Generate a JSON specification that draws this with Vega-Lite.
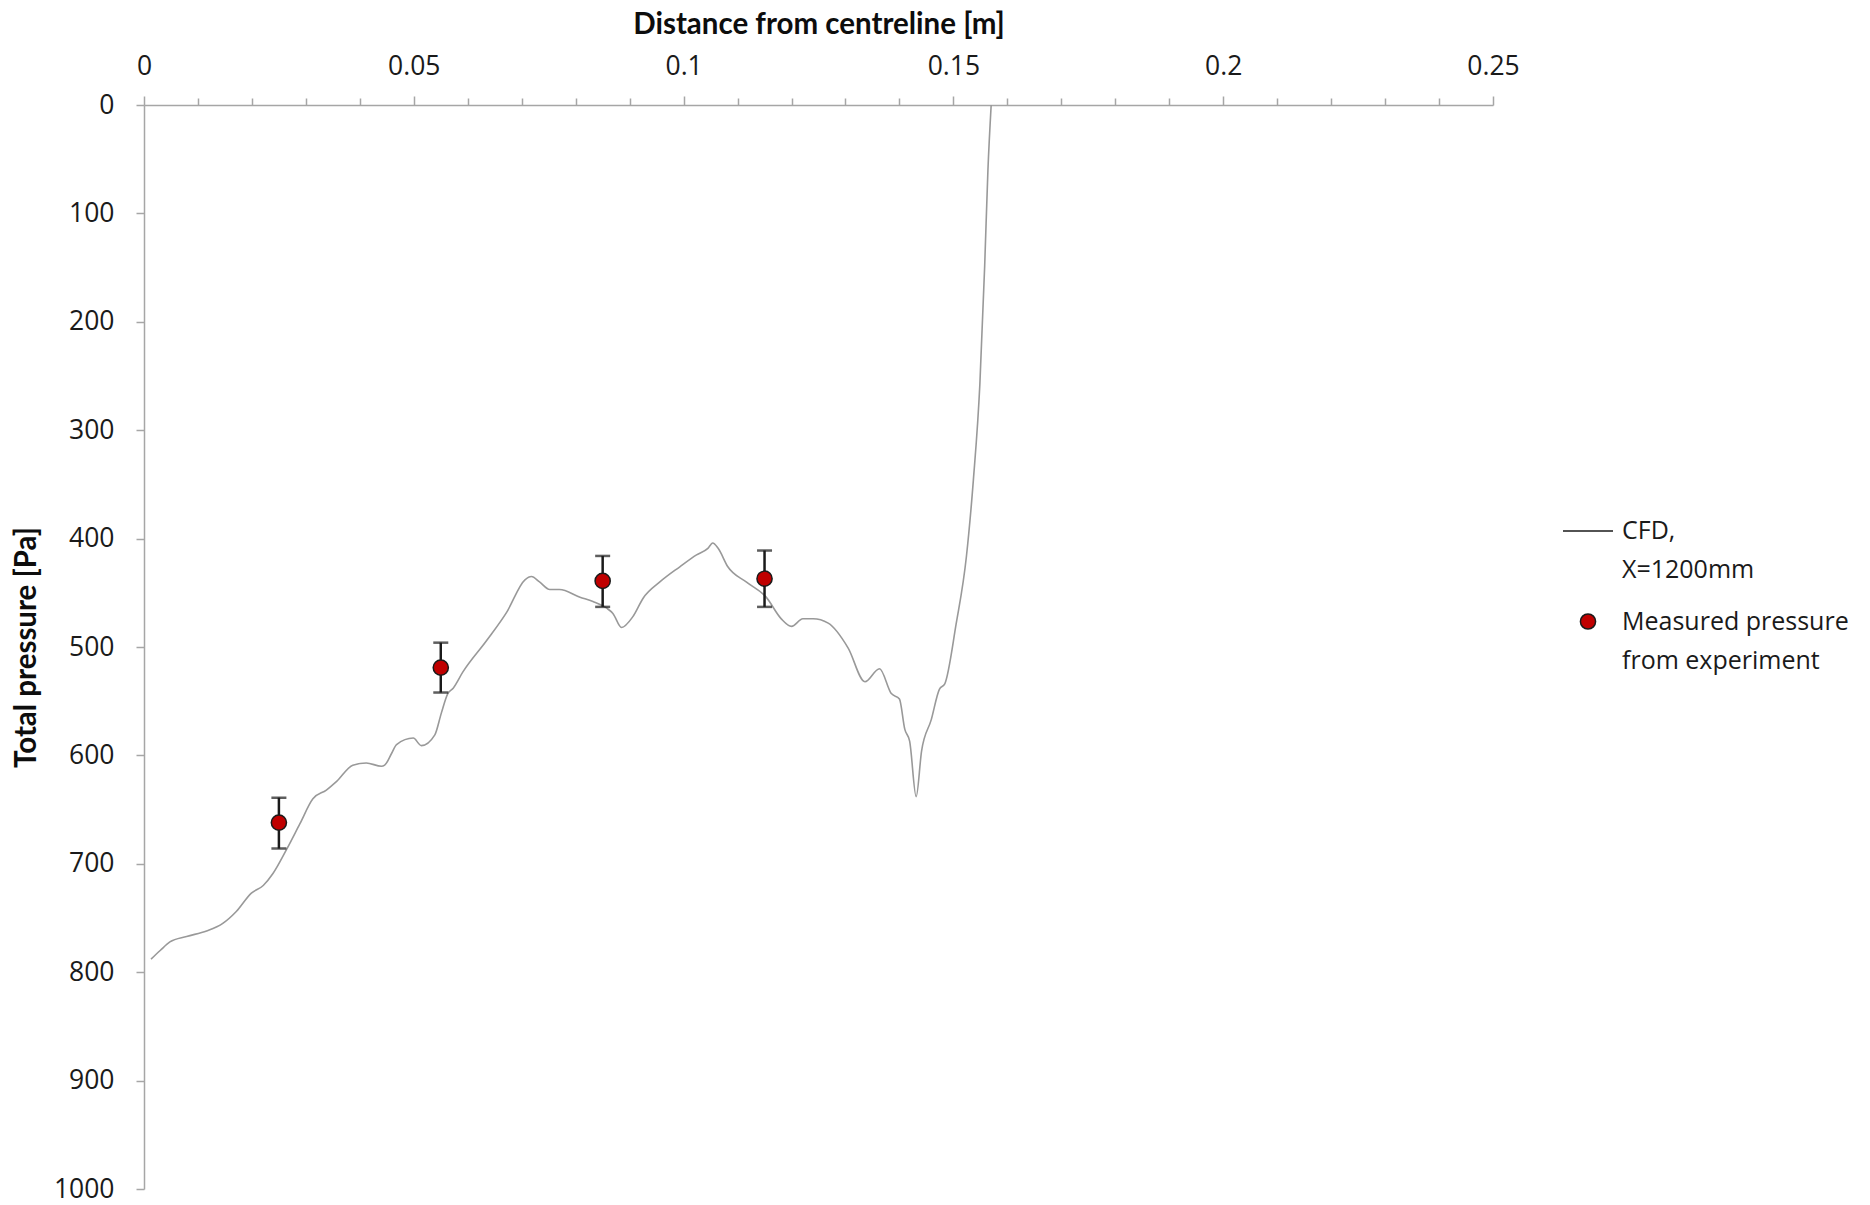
{
  "$schema": "https://vega.github.io/schema/vega-lite/v6.json",
  "width": 1349,
  "height": 1084,
  "autosize": {"type": "none"},
  "padding": {"left": 144, "top": 105, "right": 377, "bottom": 16},
  "background": "white",
  "config": {
    "view": {"stroke": null},
    "style": {"guide-label": {"lineHeight": 39}},
    "axis": {
      "domainColor": "#a6a6a6",
      "domainWidth": 1.5,
      "tickColor": "#a6a6a6",
      "tickWidth": 1.5,
      "grid": false,
      "labelFont": "Open Sans",
      "labelFontSize": 26.5,
      "labelColor": "#1a1a1a",
      "titleFont": "Lato",
      "titleFontSize": 29.5,
      "titleFontWeight": "bold",
      "titleColor": "#0d0d0d"
    },
    "legend": {
      "labelFont": "Open Sans",
      "labelFontSize": 25,
      "labelColor": "#1a1a1a"
    }
  },
  "datasets": {
    "cfd": [
      {"d": 0.0013, "p": 788}, {"d": 0.0030, "p": 780}, {"d": 0.0048, "p": 772},
      {"d": 0.0079, "p": 767}, {"d": 0.0116, "p": 762}, {"d": 0.0146, "p": 755},
      {"d": 0.0171, "p": 744}, {"d": 0.0199, "p": 727}, {"d": 0.0221, "p": 720},
      {"d": 0.0239, "p": 709}, {"d": 0.0264, "p": 687}, {"d": 0.0289, "p": 663},
      {"d": 0.0313, "p": 640}, {"d": 0.0338, "p": 632}, {"d": 0.0357, "p": 624},
      {"d": 0.0387, "p": 609}, {"d": 0.0412, "p": 607}, {"d": 0.0440, "p": 610},
      {"d": 0.0446, "p": 609}, {"d": 0.0459, "p": 598}, {"d": 0.0468, "p": 590},
      {"d": 0.0499, "p": 584}, {"d": 0.0514, "p": 591}, {"d": 0.0539, "p": 581},
      {"d": 0.0551, "p": 561}, {"d": 0.0563, "p": 543}, {"d": 0.0573, "p": 538},
      {"d": 0.0591, "p": 523}, {"d": 0.0635, "p": 494}, {"d": 0.0672, "p": 468},
      {"d": 0.0706, "p": 438}, {"d": 0.0718, "p": 435}, {"d": 0.0733, "p": 440},
      {"d": 0.0752, "p": 447}, {"d": 0.0770, "p": 447}, {"d": 0.0808, "p": 454},
      {"d": 0.0832, "p": 458}, {"d": 0.0857, "p": 464}, {"d": 0.0869, "p": 469},
      {"d": 0.0885, "p": 482}, {"d": 0.0906, "p": 472}, {"d": 0.0925, "p": 455},
      {"d": 0.0956, "p": 440}, {"d": 0.0993, "p": 426}, {"d": 0.1024, "p": 415},
      {"d": 0.1045, "p": 409}, {"d": 0.1054, "p": 404}, {"d": 0.1064, "p": 409},
      {"d": 0.1082, "p": 426}, {"d": 0.1116, "p": 440}, {"d": 0.1153, "p": 454},
      {"d": 0.1181, "p": 474}, {"d": 0.1200, "p": 481}, {"d": 0.1221, "p": 474},
      {"d": 0.1240, "p": 474}, {"d": 0.1268, "p": 478}, {"d": 0.1305, "p": 501},
      {"d": 0.1336, "p": 532}, {"d": 0.1363, "p": 520}, {"d": 0.1385, "p": 543},
      {"d": 0.1400, "p": 548}, {"d": 0.1410, "p": 576}, {"d": 0.1419, "p": 587},
      {"d": 0.1431, "p": 638}, {"d": 0.1441, "p": 596}, {"d": 0.1459, "p": 567},
      {"d": 0.1474, "p": 539}, {"d": 0.1484, "p": 534}, {"d": 0.1505, "p": 479},
      {"d": 0.1524, "p": 417}, {"d": 0.1537, "p": 346}, {"d": 0.1549, "p": 258},
      {"d": 0.1558, "p": 148}, {"d": 0.1564, "p": 60}, {"d": 0.1570, "p": 0}
    ],
    "measured": [
      {"d": 0.025, "p": 662, "lo": 639, "hi": 686, "series": "Measured"},
      {"d": 0.055, "p": 519, "lo": 496, "hi": 542, "series": "Measured"},
      {"d": 0.085, "p": 439, "lo": 416, "hi": 463, "series": "Measured"},
      {"d": 0.115, "p": 437, "lo": 411, "hi": 463, "series": "Measured"}
    ]
  },
  "layer": [
    {
      "data": {"name": "cfd"},
      "mark": {"type": "line", "color": "#999999", "strokeWidth": 1.6, "interpolate": "monotone"},
      "encoding": {
        "x": {
          "field": "d", "type": "quantitative",
          "title": "Distance from centreline [m]",
          "scale": {"domain": [0, 0.25], "nice": false, "zero": false},
          "axis": {
            "orient": "top",
            "title": "Distance from centreline [m]",
            "values": [0, 0.01, 0.02, 0.03, 0.04, 0.05, 0.06, 0.07, 0.08, 0.09, 0.1, 0.11, 0.12, 0.13, 0.14, 0.15, 0.16, 0.17, 0.18, 0.19, 0.2, 0.21, 0.22, 0.23, 0.24, 0.25],
            "labelExpr": "round(datum.value*100) % 5 == 0 ? format(datum.value, '~g') : ''",
            "tickSize": {"condition": {"test": "round(datum.value*100) % 5 == 0", "value": 9}, "value": 7},
            "labelPadding": 16,
            "labelFlush": false,
            "labelOverlap": false,
            "titlePadding": 14
          }
        },
        "y": {
          "field": "p", "type": "quantitative",
          "title": "Total pressure [Pa]",
          "scale": {"domain": [0, 1000], "reverse": true, "nice": false},
          "axis": {
            "title": "Total pressure [Pa]",
            "values": [0, 100, 200, 300, 400, 500, 600, 700, 800, 900, 1000],
            "format": "d",
            "tickSize": 8,
            "labelPadding": 22,
            "titlePadding": 12
          }
        }
      }
    },
    {
      "data": {"name": "measured"},
      "mark": {"type": "errorbar", "ticks": {"size": 15, "thickness": 2.5, "color": "#1a1a1a"}, "rule": {"strokeWidth": 2.5, "color": "#1a1a1a"}},
      "encoding": {
        "x": {"field": "d", "type": "quantitative", "title": "Distance from centreline [m]"},
        "y": {"field": "lo", "type": "quantitative", "title": "Total pressure [Pa]"},
        "y2": {"field": "hi"}
      }
    },
    {
      "data": {"name": "measured"},
      "mark": {"type": "point", "filled": true, "stroke": "#1a1a1a", "strokeWidth": 1.5, "opacity": 1},
      "encoding": {
        "x": {"field": "d", "type": "quantitative", "title": "Distance from centreline [m]"},
        "y": {"field": "p", "type": "quantitative", "title": "Total pressure [Pa]"},
        "fill": {
          "field": "series", "type": "nominal",
          "scale": {"domain": ["CFD", "Measured"], "range": ["#999999", "#c00000"]},
          "legend": {
            "title": null,
            "orient": "none",
            "legendX": 1418,
            "legendY": 400,
            "labelOffset": 8,
            "rowPadding": 26,
            "labelLimit": 400,
            "labelBaseline": "middle",
            "labelExpr": "datum.value == 'CFD' ? ['CFD,', 'X=1200mm'] : ['Measured pressure', 'from experiment']",
            "encode": {
              "symbols": {"update": {
                "fill": {"signal": "datum.value == 'CFD' ? 'transparent' : '#c00000'"},
                "stroke": {"signal": "datum.value == 'CFD' ? '#999999' : '#1a1a1a'"},
                "strokeWidth": {"signal": "datum.value == 'CFD' ? 1.8 : 1.5"}
              }},
              "labels": {"update": {"lineHeight": {"value": 39}, "dy": {"value": 19.5}}}
            }
          }
        },
        "shape": {
          "field": "series", "type": "nominal",
          "scale": {"domain": ["CFD", "Measured"], "range": ["stroke", "circle"]},
          "legend": {
            "title": null,
            "orient": "none",
            "legendX": 1418,
            "legendY": 400,
            "labelOffset": 8,
            "rowPadding": 26,
            "labelLimit": 400,
            "labelBaseline": "middle",
            "labelExpr": "datum.value == 'CFD' ? ['CFD,', 'X=1200mm'] : ['Measured pressure', 'from experiment']",
            "encode": {
              "symbols": {"update": {
                "fill": {"signal": "datum.value == 'CFD' ? 'transparent' : '#c00000'"},
                "stroke": {"signal": "datum.value == 'CFD' ? '#999999' : '#1a1a1a'"},
                "strokeWidth": {"signal": "datum.value == 'CFD' ? 1.8 : 1.5"}
              }},
              "labels": {"update": {"lineHeight": {"value": 39}, "dy": {"value": 19.5}}}
            }
          }
        },
        "size": {
          "field": "series", "type": "nominal",
          "scale": {"domain": ["CFD", "Measured"], "range": [2500, 230]},
          "legend": {
            "title": null,
            "orient": "none",
            "legendX": 1418,
            "legendY": 400,
            "labelOffset": 8,
            "rowPadding": 26,
            "labelLimit": 400,
            "labelBaseline": "middle",
            "labelExpr": "datum.value == 'CFD' ? ['CFD,', 'X=1200mm'] : ['Measured pressure', 'from experiment']",
            "encode": {
              "symbols": {"update": {
                "fill": {"signal": "datum.value == 'CFD' ? 'transparent' : '#c00000'"},
                "stroke": {"signal": "datum.value == 'CFD' ? '#999999' : '#1a1a1a'"},
                "strokeWidth": {"signal": "datum.value == 'CFD' ? 1.8 : 1.5"}
              }},
              "labels": {"update": {"lineHeight": {"value": 39}, "dy": {"value": 19.5}}}
            }
          }
        }
      }
    }
  ]
}
